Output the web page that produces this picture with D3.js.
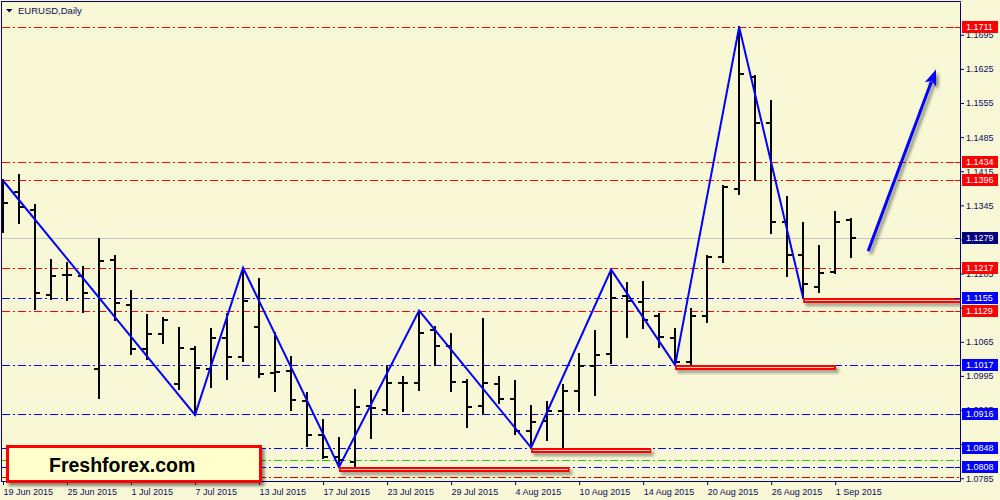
<!DOCTYPE html>
<html><head><meta charset="utf-8">
<script src="https://cdn.jsdelivr.net/npm/d3@7"></script>
<style>html,body{margin:0;padding:0;background:#f8f8d6;}svg{display:block}</style>
</head><body><svg id="c" width="1000" height="500"></svg>
<script>
// ---- data ----
const barOpen  = [1.1360,1.1372,1.1336,1.1160,1.1202,1.1200,1.1009,1.1233,1.1141,1.1050,1.1081,1.0978,1.1050,1.1009,1.1073,1.1034,1.1096,1.1000,1.1006,1.0944,1.0874,1.0829,1.0819,1.0933,1.0925,1.0980,1.0980,1.1089,1.1056,1.0983,1.0933,1.0978,1.0947,1.0881,1.0903,1.0922,1.0963,1.1016,1.1040,1.1158,1.1147,1.1118,1.1073,1.1024,1.1117,1.1238,1.1378,1.1608,1.1515,1.1311,1.1243,1.1178,1.1209,1.1314];
const barHigh  = [1.1396,1.1407,1.1346,1.1233,1.1226,1.1218,1.1276,1.1241,1.1169,1.1120,1.1114,1.1093,1.1055,1.1091,1.1123,1.1217,1.1193,1.1082,1.1033,1.0959,1.0904,1.0867,1.0966,1.0963,1.1014,1.0992,1.1129,1.1096,1.1081,1.0987,1.1112,1.0993,1.0985,1.0933,1.0942,1.0976,1.1040,1.1087,1.1213,1.1185,1.1187,1.1121,1.1091,1.1132,1.1241,1.1385,1.1711,1.1610,1.1559,1.1363,1.1308,1.1262,1.1332,1.1317];
const barLow   = [1.1290,1.1309,1.1132,1.1153,1.1151,1.1127,1.0950,1.1110,1.1039,1.1029,1.1062,1.0968,1.0915,1.0972,1.0988,1.1026,1.0992,1.0963,1.0926,1.0851,1.0826,1.0808,1.0809,1.0867,1.0918,1.0922,1.0966,1.1017,1.0963,1.0891,1.0918,1.0940,1.0875,1.0848,1.0864,1.0850,1.0922,1.0956,1.1021,1.1075,1.1094,1.1055,1.1017,1.1017,1.1105,1.1228,1.1368,1.1396,1.1289,1.1199,1.1155,1.1168,1.1207,1.1238];
const barClose = [1.1350,1.1342,1.1165,1.1201,1.1202,1.1166,1.1231,1.1145,1.1050,1.1081,1.1110,1.1053,1.1011,1.1073,1.1034,1.1149,1.0999,1.1004,1.0946,1.0874,1.0829,1.0822,1.0932,1.0929,1.0981,1.0980,1.1084,1.1057,1.0983,1.0932,1.0981,1.0948,1.0881,1.0901,1.0922,1.0963,1.1016,1.1038,1.1155,1.1149,1.1110,1.1075,1.1024,1.1117,1.1238,1.1383,1.1615,1.1515,1.1311,1.1243,1.1184,1.1207,1.1311,1.1279];

const xTickIndex  = [0,4,8,12,16,20,24,28,32,36,40,44,48,52];
const xTickLabels = ["19 Jun 2015","25 Jun 2015","1 Jul 2015","7 Jul 2015","13 Jul 2015","17 Jul 2015","23 Jul 2015","29 Jul 2015","4 Aug 2015","10 Aug 2015","14 Aug 2015","20 Aug 2015","26 Aug 2015","1 Sep 2015"];
const priceTicks  = [1.0785,1.0855,1.0925,1.0995,1.1065,1.1135,1.1205,1.1275,1.1345,1.1415,1.1485,1.1555,1.1625,1.1695];

const redLevels    = [1.1711,1.1434,1.1396,1.1217,1.1129];
const blueLevels   = [1.1155,1.1017,1.0916,1.0848,1.0808];
const greenLevels  = [1.0822];
const plainRedLevels = [1.0787];
const currentPrice = 1.1279;

const zigzagIndex = [0,12,15,21,26,33,38,42,46,50];
const zigzagSide  = ["h","l","h","l","h","l","h","l","h","l"];

const supportLevel = [1.0808,1.0848,1.1017,1.1155];
const supportFrom  = [21,33,42,50];
const supportTo    = [35.4,40.5,52.05,60];

const arrowFrom = [54.06,1.1251];
const arrowTo   = [58.3,1.1624];

const titleText = "EURUSD,Daily";
const brandText = "Freshforex.com";

// ---- drawing ----
const navy = "#000080", txt = "#0c0c5c";
const svg = d3.select("#c");
const x = d3.scaleLinear().domain([0,59.8]).range([3,960]);
const y = d3.scaleLinear().domain([1.07793,1.17623]).range([481,2]);
const font = "'Liberation Sans', Arial, sans-serif";

const defs = svg.append("defs");
defs.append("clipPath").attr("id","plot").append("rect").attr("x",2).attr("y",2).attr("width",958).attr("height",479);
const f = defs.append("filter").attr("id","sh").attr("x","-20%").attr("y","-100%").attr("width","140%").attr("height","400%");
f.append("feDropShadow").attr("dx",2.5).attr("dy",3).attr("stdDeviation",1.6).attr("flood-color","#000").attr("flood-opacity",0.45);

svg.append("rect").attr("width",1000).attr("height",500).attr("fill","#f8f8d6");

const plot = svg.append("g").attr("clip-path","url(#plot)");
const py = p => Math.round(y(p)) + 0.5;

// level lines
function levelLine(p, color, dash){
  plot.append("line").attr("x1",2).attr("x2",960).attr("y1",py(p)).attr("y2",py(p))
    .attr("stroke",color).attr("stroke-width",1).attr("stroke-dasharray",dash||null);
}
levelLine(currentPrice,"#c8c8c8",null);
redLevels.forEach(p=>levelLine(p,"#ff0000","8,3,2,3"));
plainRedLevels.forEach(p=>levelLine(p,"#d00000","8,3,2,3"));
blueLevels.forEach(p=>levelLine(p,"#0000ff","8,3,2,3"));
greenLevels.forEach(p=>levelLine(p,"#20c020","8,3,2,3"));

// OHLC bars
const idx = d3.range(barOpen.length);
const bars = plot.append("g").attr("stroke","#000").attr("stroke-width",2);
idx.forEach(i=>{
  const cx = Math.round(x(i));
  bars.append("line").attr("x1",cx).attr("x2",cx).attr("y1",Math.round(y(barHigh[i]))-1).attr("y2",Math.round(y(barLow[i]))+1);
  const yo = Math.round(y(barOpen[i])), yc = Math.round(y(barClose[i]));
  bars.append("line").attr("x1",cx-5).attr("x2",cx).attr("y1",yo).attr("y2",yo);
  bars.append("line").attr("x1",cx).attr("x2",cx+5).attr("y1",yc).attr("y2",yc);
});

// zigzag
const zz = zigzagIndex.map((b,k)=>[x(b), y(zigzagSide[k]==="h"?barHigh[b]:barLow[b])]);
plot.append("path").attr("d",d3.line()(zz)).attr("fill","none").attr("stroke","#0000ff").attr("stroke-width",2);

// support rectangles
supportLevel.forEach((p,k)=>{
  const x0 = x(supportFrom[k]), x1 = x(supportTo[k]);
  plot.append("rect").attr("x",x0+1).attr("y",Math.round(y(p))+1).attr("width",x1-x0-2).attr("height",3)
    .attr("fill","none").attr("stroke","#ff0000").attr("stroke-width",2).attr("filter","url(#sh)");
});

// arrow
(function(){
  const p0=[x(arrowFrom[0]),y(arrowFrom[1])], p1=[x(arrowTo[0]),y(arrowTo[1])];
  const dx=p1[0]-p0[0], dy=p1[1]-p0[1], L=Math.hypot(dx,dy), ux=dx/L, uy=dy/L, nx=-uy, ny=ux;
  const hl=16, hw=6;
  const g = plot.append("g").attr("filter","url(#sh)");
  g.append("line").attr("x1",p0[0]).attr("y1",p0[1]).attr("x2",p1[0]-ux*(hl-3)).attr("y2",p1[1]-uy*(hl-3))
    .attr("stroke","#0000ff").attr("stroke-width",3);
  const bx=p1[0]-ux*hl, by=p1[1]-uy*hl;
  g.append("path").attr("d",`M${p1[0]},${p1[1]}L${bx+nx*hw},${by+ny*hw}L${p1[0]-ux*(hl-4)},${p1[1]-uy*(hl-4)}L${bx-nx*hw},${by-ny*hw}Z`)
    .attr("fill","#0000ff");
})();

// frame
svg.append("line").attr("x1",1.5).attr("x2",1.5).attr("y1",1).attr("y2",482).attr("stroke",navy);
svg.append("line").attr("x1",1).attr("x2",961).attr("y1",1.5).attr("y2",1.5).attr("stroke",navy);

// right axis
const tagLevels = redLevels.concat(blueLevels,[currentPrice]);
const hidden = d => tagLevels.some(p => Math.abs(y(p)-y(d)) < 3.6);
const ra = svg.append("g").attr("transform","translate(960,0)")
  .call(d3.axisRight(y).tickValues(priceTicks).tickSize(4).tickSizeOuter(0).tickFormat(d3.format(".4f")));
ra.select(".domain").attr("stroke",navy);
ra.selectAll(".tick line").attr("stroke",navy);
ra.selectAll(".tick text").attr("x",6).attr("fill",txt).attr("font-family",font).attr("font-size","9px").attr("dy","0.33em")
  .attr("display",d=>hidden(d)?"none":null);

// bottom axis
const ba = svg.append("g").attr("transform","translate(0,481)")
  .call(d3.axisBottom(x).tickValues(xTickIndex).tickSize(4).tickSizeOuter(0).tickFormat((d,i)=>xTickLabels[i]));
ba.select(".domain").attr("stroke",navy).attr("d","M1.5,0.5H960.5");
ba.selectAll(".tick line").attr("stroke",navy);
ba.selectAll(".tick text").attr("text-anchor","start").attr("x",0).attr("y",7.5).attr("fill",txt)
  .attr("font-family",font).attr("font-size","9px");

// level labels
function tag(p, color){
  const cy = Math.round(y(p));
  svg.append("line").attr("x1",955).attr("x2",960).attr("y1",cy+0.5).attr("y2",cy+0.5).attr("stroke",color);
  svg.append("rect").attr("x",962).attr("y",cy-6).attr("width",36).attr("height",12).attr("fill",color);
  svg.append("text").attr("x",966).attr("y",cy+0.5).attr("dy","0.33em").attr("fill","#fff")
    .attr("font-family",font).attr("font-size","9px").text(d3.format(".4f")(p));
}
redLevels.forEach(p=>tag(p,"#ff0000"));
blueLevels.forEach(p=>tag(p,"#0000ff"));
tag(currentPrice,"#000080");

// title
svg.append("path").attr("d","M6,9L12.5,9L9.25,12.5Z").attr("fill","#000040");
svg.append("text").attr("x",18).attr("y",14).attr("fill",txt).attr("font-family",font).attr("font-size","9.5px").text(titleText);

// brand box
svg.append("rect").attr("x",7.5).attr("y",446.5).attr("width",253).attr("height",35)
  .attr("fill","#ffffcc").attr("stroke","#ff0000").attr("stroke-width",3).attr("filter","url(#sh)");
svg.append("text").attr("x",49).attr("y",472).attr("fill","#000").attr("font-family",font)
  .attr("font-weight","bold").attr("font-size","19.5px").text(brandText);
</script></body></html>
